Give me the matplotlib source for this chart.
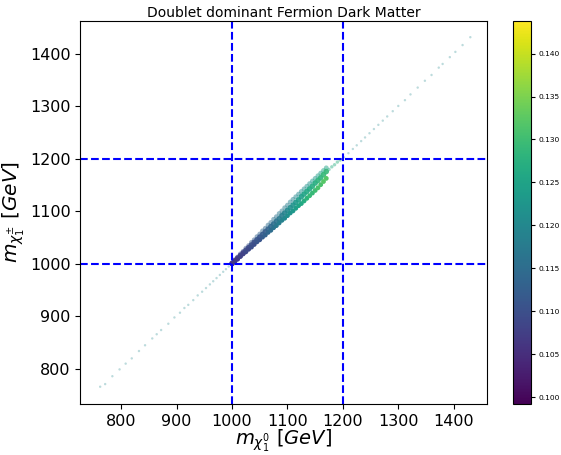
import matplotlib
matplotlib.use("Agg")
import matplotlib.pyplot as plt

# ---------------------------------------------------------------
# data (m_chi0, m_chi+-, relic density)
# ---------------------------------------------------------------
core_x = [1000, 1005, 1010, 1015, 1020, 1025, 1030, 1035, 1040, 1045,
          1050, 1055, 1060, 1065, 1070, 1075, 1080, 1085, 1090, 1095,
          1100, 1105, 1110, 1115, 1120, 1125, 1130, 1135, 1140, 1145,
          1150, 1155, 1160, 1165, 1170]

low_y = [1000, 1005, 1009, 1014, 1019, 1023, 1028, 1032, 1037, 1042,
         1046, 1051, 1055, 1060, 1064, 1069, 1073, 1078, 1083, 1087,
         1092, 1097, 1101, 1106, 1111, 1115, 1120, 1125, 1130, 1135,
         1140, 1145, 1151, 1157, 1163]
low_c = [0.106, 0.107, 0.107, 0.108, 0.108, 0.109, 0.109, 0.110, 0.110, 0.111,
         0.111, 0.112, 0.113, 0.114, 0.115, 0.116, 0.117, 0.118, 0.119, 0.120,
         0.121, 0.122, 0.123, 0.124, 0.125, 0.126, 0.127, 0.128, 0.129, 0.129,
         0.130, 0.131, 0.131, 0.132, 0.132]

mid_y = [1001, 1006, 1011, 1016, 1021, 1026, 1031, 1036, 1041, 1046,
         1051, 1056, 1061, 1066, 1071, 1076, 1081, 1086, 1092, 1097,
         1102, 1107, 1112, 1117, 1122, 1128, 1133, 1138, 1143, 1148,
         1154, 1159, 1164, 1170, 1176]
mid_c = [0.106, 0.107, 0.107, 0.108, 0.108, 0.109, 0.109, 0.110, 0.110, 0.111,
         0.111, 0.112, 0.112, 0.113, 0.114, 0.115, 0.116, 0.117, 0.118, 0.119,
         0.120, 0.121, 0.122, 0.123, 0.124, 0.124, 0.125, 0.126, 0.126, 0.127,
         0.127, 0.128, 0.128, 0.129, 0.129]

up_y = [1002, 1008, 1013, 1019, 1024, 1030, 1035, 1041, 1046, 1052,
        1057, 1063, 1068, 1074, 1079, 1085, 1090, 1096, 1101, 1107,
        1112, 1118, 1123, 1128, 1133, 1138, 1143, 1148, 1153, 1158,
        1163, 1168, 1173, 1178, 1183]
up_c = [0.108, 0.109, 0.109, 0.110, 0.110, 0.111, 0.111, 0.112, 0.112, 0.113,
        0.113, 0.114, 0.114, 0.115, 0.115, 0.116, 0.116, 0.117, 0.117, 0.118,
        0.118, 0.119, 0.119, 0.120, 0.120, 0.121, 0.121, 0.122, 0.122, 0.123,
        0.123, 0.124, 0.124, 0.125, 0.125]

tip_x = [1175, 1180, 1185, 1190, 1195]
tip_y = [1180, 1185, 1189, 1194, 1198]
tip_c = [0.126, 0.127, 0.127, 0.128, 0.128]

tail_x = [762, 771, 784, 797, 808, 819, 832, 843, 856, 864, 872, 885, 896,
          906, 914, 921, 930, 938, 946, 953, 960, 966, 972, 978, 984, 989, 994,
          1202, 1210, 1218, 1225, 1233, 1240, 1248, 1256, 1264, 1272, 1280,
          1290, 1300, 1312, 1322, 1335, 1348, 1360, 1373, 1380, 1393, 1403,
          1416, 1430]
tail_y = [766, 771, 786, 799, 810, 820, 834, 845, 858, 866, 874, 886, 898,
          907, 916, 922, 931, 940, 947, 954, 961, 967, 973, 979, 985, 990, 995,
          1203, 1211, 1219, 1226, 1234, 1241, 1249, 1257, 1265, 1273, 1281,
          1291, 1301, 1312, 1323, 1336, 1349, 1360, 1374, 1381, 1394, 1404,
          1417, 1432]
tail_c = [0.120] * len(tail_x)

cmin, cmax = 0.0992, 0.1438

fig = plt.figure(figsize=(5.61, 4.55), dpi=100)
ax = fig.add_axes([0.143, 0.112, 0.725, 0.842])
cax = fig.add_axes([0.914, 0.112, 0.033, 0.842])

kw = dict(cmap='viridis', vmin=cmin, vmax=cmax, linewidths=0, marker='o')
ax.scatter(tail_x, tail_y, c=tail_c, s=3, alpha=0.3, **kw)
ax.scatter(core_x, up_y, c=up_c, s=12, alpha=0.5, **kw)
ax.scatter(tip_x, tip_y, c=tip_c, s=6, alpha=0.45, **kw)
ax.scatter(core_x, mid_y, c=mid_c, s=16, alpha=0.9, **kw)
sc = ax.scatter(core_x, low_y, c=low_c, s=12, alpha=1.0, **kw)

for v in [1000, 1200]:
    ax.axvline(v, color='b', linestyle='--', lw=1.5)
    ax.axhline(v, color='b', linestyle='--', lw=1.5)

ax.set_xlim(726, 1460)
ax.set_ylim(733, 1463)
ax.set_title("Doublet dominant Fermion Dark Matter", fontsize=10, pad=3)
ax.set_xlabel(r'$m_{\chi_1^0}\ [GeV]$', fontsize=14, labelpad=-1)
ax.set_ylabel(r'$m_{\chi_1^{\pm}}\ [GeV]$', fontsize=14.5, labelpad=2)
ax.tick_params(labelsize=11.5)

cb = fig.colorbar(sc, cax=cax)
cb.solids.set_alpha(1)
cb.set_ticks([0.100, 0.105, 0.110, 0.115, 0.120, 0.125, 0.130, 0.135, 0.140])
cb.ax.tick_params(labelsize=5.4, length=3, pad=2)

fig.savefig("out.png", dpi=100)
